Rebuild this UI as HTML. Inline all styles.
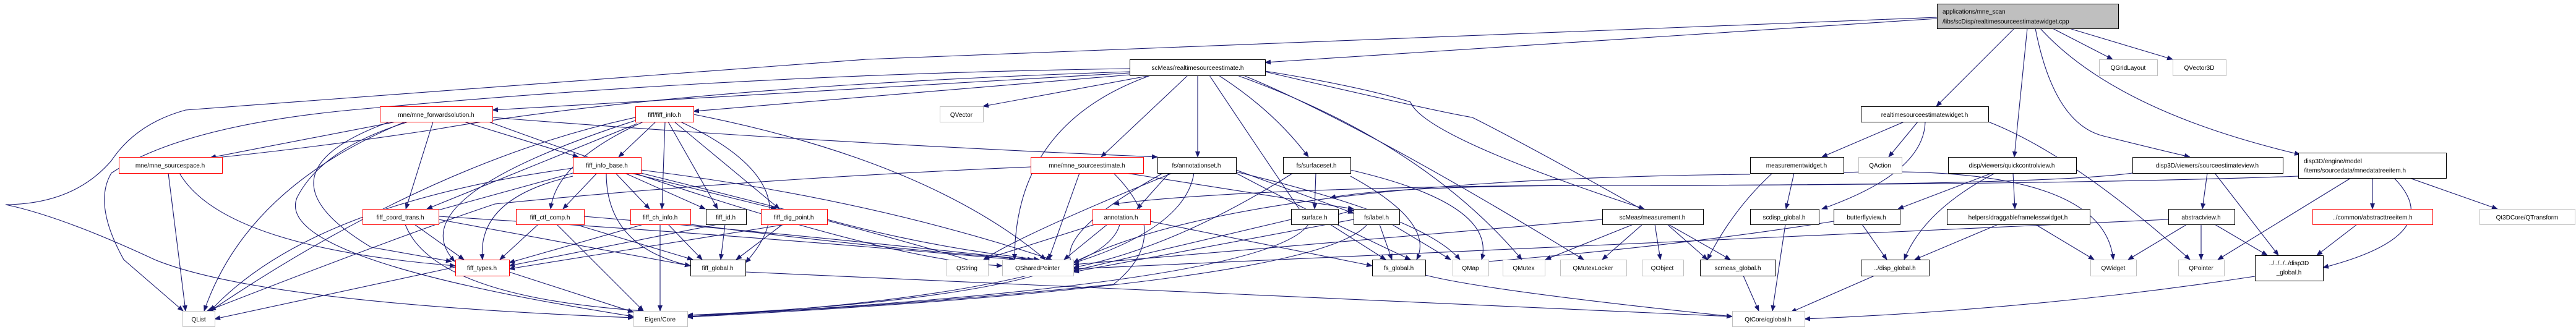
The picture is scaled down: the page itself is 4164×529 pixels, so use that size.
<!DOCTYPE html>
<html><head><meta charset="utf-8"><style>
html,body{margin:0;padding:0;background:#fff}
svg{display:block}
text{font-family:"Liberation Sans",sans-serif;font-size:10px;fill:#000}
.e{fill:none;stroke:#191970;stroke-width:1.1;marker-end:url(#a)}
.b{fill:#fff;stroke:#000;stroke-width:1}
.r{fill:#fff;stroke:#ff0000;stroke-width:1}
.g{fill:#fff;stroke:#bfbfbf;stroke-width:1}
</style></head><body>
<svg width="4164" height="529" viewBox="0 0 4164 529" xmlns="http://www.w3.org/2000/svg">
<defs><marker id="a" markerWidth="10" markerHeight="8" refX="9" refY="4" orient="auto" markerUnits="userSpaceOnUse"><path d="M0,0 L10,4 L0,8 z" fill="#191970"/></marker></defs>
<g>
<!-- top edges -->
<path class="e" d="M3132,30 L2045,101"/>
<path class="e" d="M3132,28 L1400,96 Q520,160 300,178 Q220,200 180,260 Q120,330 9,331 Q100,350 250,420 Q420,490 1024,514"/>
<path class="e" d="M3256,46 L3130,172"/>
<path class="e" d="M3277,46 L3256,254"/>
<path class="e" d="M3290,46 Q3320,200 3400,220 Q3480,240 3540,254"/>
<path class="e" d="M3298,46 Q3420,180 3718,250"/>
<path class="e" d="M3318,46 L3415,96"/>
<path class="e" d="M3345,46 L3512,96"/>
<!-- rts edges -->
<path class="e" d="M1826,111 Q1200,120 600,175 Q300,200 180,280 Q150,330 200,420 L296,503"/>
<path class="e" d="M1826,116 Q1100,140 700,210 Q500,240 340,256"/>
<path class="e" d="M1826,118 L796,178"/>
<path class="e" d="M1826,121 L1121,180"/>
<path class="e" d="M1860,122 L1589,172"/>
<path class="e" d="M1860,122 Q1640,200 1640,420"/>
<path class="e" d="M1920,122 L1780,254"/>
<path class="e" d="M1936,122 L1936,254"/>
<path class="e" d="M1955,122 Q2020,220 2115,360 L2188,340"/>
<path class="e" d="M1970,122 Q2060,180 2115,254"/>
<path class="e" d="M2000,122 Q2300,230 2460,420"/>
<path class="e" d="M2010,122 Q2200,200 2560,420"/>
<path class="e" d="M2045,115 Q2200,140 2280,165 Q2300,220 2658,338"/>
<path class="e" d="M2045,116 Q2320,180 2380,190 Q2500,250 2797,420"/>
<!-- mne_forwardsolution -->
<path class="e" d="M640,197 L340,255"/>
<path class="e" d="M660,197 Q520,240 480,320 Q440,420 1024,512"/>
<path class="e" d="M700,197 L656,338"/>
<path class="e" d="M750,197 L935,254"/>
<path class="e" d="M630,197 Q400,280 600,400 L730,423"/>
<path class="e" d="M796,190 Q1300,230 1871,254"/>
<path class="e" d="M790,197 Q1400,420 1620,430"/>
<path class="e" d="M660,195 Q400,300 330,503"/>
<!-- fiff_info -->
<path class="e" d="M1060,197 L1000,254"/>
<path class="e" d="M1030,200 L690,338"/>
<path class="e" d="M1040,197 Q900,260 890,338"/>
<path class="e" d="M1075,197 L1070,338"/>
<path class="e" d="M1080,197 L1160,338"/>
<path class="e" d="M1090,197 L1260,338"/>
<path class="e" d="M1100,197 Q1320,300 1205,425"/>
<path class="e" d="M1027,195 Q640,320 735,423"/>
<path class="e" d="M1027,190 Q700,260 340,503"/>
<path class="e" d="M1121,185 Q1500,260 1690,420"/>
<!-- mne_sourcespace -->
<path class="e" d="M272,280 L300,503"/>
<path class="e" d="M290,280 Q360,400 736,430"/>
<!-- fiff_info_base -->
<path class="e" d="M926,280 L690,345"/>
<path class="e" d="M965,280 L910,338"/>
<path class="e" d="M995,280 L1050,338"/>
<path class="e" d="M1010,280 L1140,338"/>
<path class="e" d="M1020,280 L1255,338"/>
<path class="e" d="M926,285 Q770,320 780,420"/>
<path class="e" d="M980,280 Q980,400 1116,430"/>
<path class="e" d="M926,272 Q500,330 340,503"/>
<path class="e" d="M1036,275 Q1400,320 1700,420"/>
<path class="e" d="M1036,280 Q1400,370 1597,430"/>
<!-- row4 fiff -->
<path class="e" d="M670,363 L750,420"/>
<path class="e" d="M709,355 L1116,430"/>
<path class="e" d="M655,363 Q700,480 1040,503"/>
<path class="e" d="M709,350 Q1200,380 1640,420"/>
<path class="e" d="M870,363 L808,420"/>
<path class="e" d="M930,363 L1120,420"/>
<path class="e" d="M900,363 L1040,503"/>
<path class="e" d="M944,350 Q1300,380 1660,420"/>
<path class="e" d="M1040,363 L823,425"/>
<path class="e" d="M1080,363 L1135,420"/>
<path class="e" d="M1067,363 L1067,503"/>
<path class="e" d="M1116,363 Q1400,400 1670,420"/>
<path class="e" d="M1160,363 L823,430"/>
<path class="e" d="M1172,363 L1165,420"/>
<path class="e" d="M1270,363 L823,435"/>
<path class="e" d="M1265,363 L1190,420"/>
<path class="e" d="M1337,355 Q1500,400 1680,420"/>
<path class="e" d="M736,432 L347,516"/>
<path class="e" d="M823,440 L1024,505"/>
<path class="e" d="M1205,440 L2800,512"/>
<!-- mne_sourceestimate etc -->
<path class="e" d="M1666,270 Q1200,290 800,330 Q650,380 335,503"/>
<path class="e" d="M1745,280 L1695,420"/>
<path class="e" d="M1800,280 Q1900,380 1800,460 Q1400,500 1111,510"/>
<path class="e" d="M1820,280 L2188,338"/>
<path class="e" d="M1890,280 L1838,338"/>
<path class="e" d="M1895,280 Q1650,380 1590,420"/>
<path class="e" d="M1880,280 Q1700,380 1735,430"/>
<path class="e" d="M1930,280 Q1900,470 1111,512"/>
<path class="e" d="M1998,275 L2188,345"/>
<path class="e" d="M1998,280 Q2130,350 2280,420"/>
<path class="e" d="M1998,278 Q2300,350 2360,420"/>
<path class="e" d="M2127,280 L2125,338"/>
<path class="e" d="M2090,280 Q1900,400 1735,433"/>
<path class="e" d="M2183,285 Q2320,360 2290,420"/>
<path class="e" d="M2183,275 Q2420,330 2395,420"/>
<path class="e" d="M1770,363 L1590,420"/>
<path class="e" d="M1790,363 L1720,420"/>
<path class="e" d="M1810,363 Q1780,480 1111,510"/>
<path class="e" d="M1859,358 L2218,430"/>
<path class="e" d="M2087,355 L1735,438"/>
<path class="e" d="M2150,363 L2240,420"/>
<path class="e" d="M2115,363 Q2050,460 1111,512"/>
<path class="e" d="M2230,363 L2250,420"/>
<path class="e" d="M2250,363 L2345,420"/>
<path class="e" d="M2210,363 Q2130,460 1111,513"/>
<path class="e" d="M2188,355 L1735,440"/>
<path class="e" d="M2590,355 L1735,428"/>
<path class="e" d="M2640,363 L2498,420"/>
<path class="e" d="M2655,363 L2590,420"/>
<path class="e" d="M2675,363 L2684,420"/>
<path class="e" d="M2695,363 L2760,420"/>
<path class="e" d="M2304,445 Q2400,470 2800,512"/>
<path class="e" d="M2818,446 L2843,503"/>
<!-- right side -->
<path class="e" d="M3078,197 L2945,254"/>
<path class="e" d="M3100,197 L3053,254"/>
<path class="e" d="M3112,197 Q3110,280 2945,338"/>
<path class="e" d="M3214,197 Q3350,250 3540,420"/>
<path class="e" d="M2865,280 Q2800,340 2760,420"/>
<path class="e" d="M2900,280 L2887,338"/>
<path class="e" d="M2955,280 Q3400,260 3416,420"/>
<path class="e" d="M2829,282 Q2000,290 1735,425"/>
<path class="e" d="M3220,280 L3068,338"/>
<path class="e" d="M3225,280 Q3110,340 3078,420"/>
<path class="e" d="M3254,280 L3257,338"/>
<path class="e" d="M3447,280 Q3300,300 2600,300 Q2250,300 2150,320"/>
<path class="e" d="M3568,280 L3560,338"/>
<path class="e" d="M3580,280 L3683,413"/>
<path class="e" d="M3715,285 Q3300,300 2500,300 Q2000,305 1800,330"/>
<path class="e" d="M3800,288 L3585,420"/>
<path class="e" d="M3835,288 L3835,338"/>
<path class="e" d="M3870,288 Q3960,380 3755,433"/>
<path class="e" d="M3895,288 L4037,338"/>
<path class="e" d="M2886,363 L2865,503"/>
<path class="e" d="M3010,363 L3050,420"/>
<path class="e" d="M2964,358 Q2700,400 2380,425"/>
<path class="e" d="M3230,363 L3095,420"/>
<path class="e" d="M3290,363 L3385,420"/>
<path class="e" d="M3505,355 L1735,435"/>
<path class="e" d="M3535,363 L3440,420"/>
<path class="e" d="M3558,363 L3558,420"/>
<path class="e" d="M3580,363 L3665,413"/>
<path class="e" d="M3810,363 L3745,413"/>
<path class="e" d="M3030,446 L2895,505"/>
<path class="e" d="M3645,447 Q3300,500 2917,516"/>
</g>
<!-- nodes -->
<rect class="g" x="3131.5" y="6.5" width="293" height="40" style="fill:#bfbfbf;stroke:#000"/>
<text x="3140" y="22">applications/mne_scan</text>
<text x="3140" y="38">/libs/scDisp/realtimesourceestimatewidget.cpp</text>

<rect class="b" x="1826.5" y="96.5" width="219" height="26"/><text x="1936" y="113" text-anchor="middle">scMeas/realtimesourceestimate.h</text>
<rect class="g" x="3393.5" y="96.5" width="94" height="26"/><text x="3440" y="113" text-anchor="middle">QGridLayout</text>
<rect class="g" x="3512.5" y="96.5" width="86" height="26"/><text x="3555" y="113" text-anchor="middle">QVector3D</text>

<rect class="r" x="614.5" y="172.5" width="182" height="25"/><text x="705" y="189" text-anchor="middle">mne/mne_forwardsolution.h</text>
<rect class="r" x="1027.5" y="172.5" width="94" height="25"/><text x="1074" y="189" text-anchor="middle">fiff/fiff_info.h</text>
<rect class="g" x="1519.5" y="172.5" width="70" height="25"/><text x="1554" y="189" text-anchor="middle">QVector</text>
<rect class="b" x="3008.5" y="172.5" width="206" height="25"/><text x="3111" y="189" text-anchor="middle">realtimesourceestimatewidget.h</text>

<rect class="r" x="192.5" y="254.5" width="167" height="26"/><text x="275" y="271" text-anchor="middle">mne/mne_sourcespace.h</text>
<rect class="r" x="926.5" y="254.5" width="110" height="26"/><text x="981" y="271" text-anchor="middle">fiff_info_base.h</text>
<rect class="r" x="1666.5" y="254.5" width="182" height="26"/><text x="1757" y="271" text-anchor="middle">mne/mne_sourceestimate.h</text>
<rect class="b" x="1871.5" y="254.5" width="127" height="26"/><text x="1934" y="271" text-anchor="middle">fs/annotationset.h</text>
<rect class="b" x="2074.5" y="254.5" width="109" height="26"/><text x="2128" y="271" text-anchor="middle">fs/surfaceset.h</text>
<rect class="b" x="2829.5" y="254.5" width="151" height="26"/><text x="2904" y="271" text-anchor="middle">measurementwidget.h</text>
<rect class="g" x="3004.5" y="254.5" width="70" height="26"/><text x="3039" y="271" text-anchor="middle">QAction</text>
<rect class="b" x="3149.5" y="254.5" width="207" height="26"/><text x="3252" y="271" text-anchor="middle">disp/viewers/quickcontrolview.h</text>
<rect class="b" x="3447.5" y="254.5" width="243" height="26"/><text x="3568" y="271" text-anchor="middle">disp3D/viewers/sourceestimateview.h</text>
<rect class="b" x="3715.5" y="247.5" width="239" height="41"/><text x="3724" y="264">disp3D/engine/model</text><text x="3724" y="279">/items/sourcedata/mnedatatreeitem.h</text>

<rect class="r" x="586.5" y="338.5" width="123" height="25"/><text x="647" y="355" text-anchor="middle">fiff_coord_trans.h</text>
<rect class="r" x="834.5" y="338.5" width="110" height="25"/><text x="889" y="355" text-anchor="middle">fiff_ctf_comp.h</text>
<rect class="r" x="1019.5" y="338.5" width="97" height="25"/><text x="1067" y="355" text-anchor="middle">fiff_ch_info.h</text>
<rect class="b" x="1141.5" y="338.5" width="65" height="25"/><text x="1173" y="355" text-anchor="middle">fiff_id.h</text>
<rect class="r" x="1230.5" y="338.5" width="107" height="25"/><text x="1283" y="355" text-anchor="middle">fiff_dig_point.h</text>
<rect class="r" x="1766.5" y="338.5" width="93" height="25"/><text x="1812" y="355" text-anchor="middle">annotation.h</text>
<rect class="b" x="2087.5" y="338.5" width="76" height="25"/><text x="2125" y="355" text-anchor="middle">surface.h</text>
<rect class="b" x="2188.5" y="338.5" width="74" height="25"/><text x="2225" y="355" text-anchor="middle">fs/label.h</text>
<rect class="b" x="2590.5" y="338.5" width="163" height="25"/><text x="2671" y="355" text-anchor="middle">scMeas/measurement.h</text>
<rect class="b" x="2829.5" y="338.5" width="111" height="25"/><text x="2884" y="355" text-anchor="middle">scdisp_global.h</text>
<rect class="b" x="2964.5" y="338.5" width="107" height="25"/><text x="3017" y="355" text-anchor="middle">butterflyview.h</text>
<rect class="b" x="3147.5" y="338.5" width="231" height="25"/><text x="3262" y="355" text-anchor="middle">helpers/draggableframelesswidget.h</text>
<rect class="b" x="3505.5" y="338.5" width="107" height="25"/><text x="3558" y="355" text-anchor="middle">abstractview.h</text>
<rect class="r" x="3738.5" y="338.5" width="194" height="25"/><text x="3835" y="355" text-anchor="middle">../common/abstracttreeitem.h</text>
<rect class="g" x="4008.5" y="338.5" width="154" height="25"/><text x="4085" y="355" text-anchor="middle">Qt3DCore/QTransform</text>

<rect class="r" x="736.5" y="420.5" width="87" height="26"/><text x="779" y="437" text-anchor="middle">fiff_types.h</text>
<rect class="b" x="1116.5" y="420.5" width="89" height="26"/><text x="1160" y="437" text-anchor="middle">fiff_global.h</text>
<rect class="g" x="1530.5" y="420.5" width="67" height="26"/><text x="1563" y="437" text-anchor="middle">QString</text>
<rect class="g" x="1620.5" y="420.5" width="115" height="26"/><text x="1677" y="437" text-anchor="middle">QSharedPointer</text>
<rect class="b" x="2218.5" y="420.5" width="86" height="26"/><text x="2261" y="437" text-anchor="middle">fs_global.h</text>
<rect class="g" x="2348.5" y="420.5" width="58" height="26"/><text x="2377" y="437" text-anchor="middle">QMap</text>
<rect class="g" x="2429.5" y="420.5" width="68" height="26"/><text x="2463" y="437" text-anchor="middle">QMutex</text>
<rect class="g" x="2522.5" y="420.5" width="107" height="26"/><text x="2575" y="437" text-anchor="middle">QMutexLocker</text>
<rect class="g" x="2654.5" y="420.5" width="67" height="26"/><text x="2687" y="437" text-anchor="middle">QObject</text>
<rect class="b" x="2748.5" y="420.5" width="122" height="26"/><text x="2809" y="437" text-anchor="middle">scmeas_global.h</text>
<rect class="b" x="3008.5" y="420.5" width="110" height="26"/><text x="3063" y="437" text-anchor="middle">../disp_global.h</text>
<rect class="g" x="3379.5" y="420.5" width="74" height="26"/><text x="3416" y="437" text-anchor="middle">QWidget</text>
<rect class="g" x="3521.5" y="420.5" width="74" height="26"/><text x="3558" y="437" text-anchor="middle">QPointer</text>
<rect class="b" x="3645.5" y="413.5" width="110" height="41"/><text x="3700" y="429" text-anchor="middle">../../../../disp3D</text><text x="3700" y="444" text-anchor="middle">_global.h</text>

<rect class="g" x="295.5" y="503.5" width="52" height="25"/><text x="321" y="520" text-anchor="middle">QList</text>
<rect class="g" x="1024.5" y="503.5" width="87" height="25"/><text x="1067" y="520" text-anchor="middle">Eigen/Core</text>
<rect class="g" x="2800.5" y="503.5" width="117" height="25"/><text x="2858" y="520" text-anchor="middle">QtCore/qglobal.h</text>
</svg>
</body></html>
